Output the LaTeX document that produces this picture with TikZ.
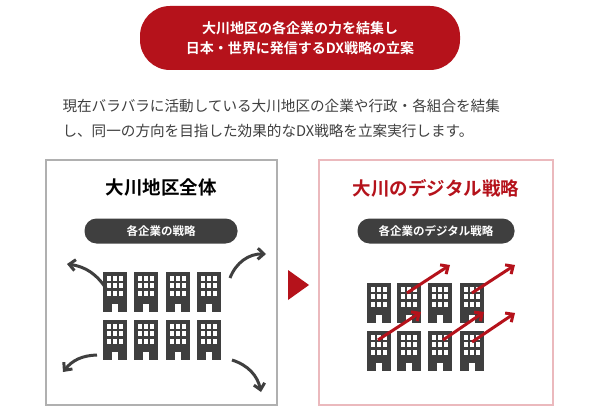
\documentclass[tikz,border=0pt]{standalone}
\usepackage{fontspec}
\setmainfont{Noto Sans CJK JP}
\newfontfamily\cjkb{Noto Sans CJK JP Bold}
\usetikzlibrary{arrows.meta}
\definecolor{dxred}{HTML}{B5121B}
\definecolor{dxdark}{HTML}{3F3F3F}
\definecolor{dxgray}{HTML}{B0B0B0}
\definecolor{dxpink}{HTML}{EBB9BD}
\tikzset{
  bld/.pic={
    \fill[dxdark] (0,0) rectangle (24,40);
    \foreach \r in {0,1,2}{\foreach \c in {0,1,2}{
      \fill[white] (3.5+\c*6.3,3.5+\r*7.5) rectangle ++(4.3,5);}}
    \fill[white] (9,32) rectangle (15,40);
  },
  pill/.style={fill=#1,rounded corners=12pt,text=white,font=\cjkb,align=center},
  panel/.style={draw=#1,line width=2.5pt},
  darr/.style={draw=dxdark,line width=3pt,-{Straight Barb[length=6pt,width=11pt,line width=3pt]}},
  rarr/.style={draw=dxred,line width=3pt,-{Straight Barb[length=6pt,width=11pt,line width=3pt]}},
}
\begin{document}
\begin{tikzpicture}[x=1pt,y=-1pt]
\useasboundingbox[fill=white] (0,0) rectangle (600,412);
\node[pill=dxred,minimum width=320pt,minimum height=64pt,rounded corners=30pt,font=\cjkb\fontsize{14}{20}\selectfont] (title) at (300,38) {大川地区の各企業の力を結集し\\日本・世界に発信するDX戦略の立案};
\node[anchor=west,align=left,text=dxdark,font=\fontsize{14.6}{25}\selectfont] (para) at (59,118) {現在バラバラに活動している大川地区の企業や行政・各組合を結集\\し、同一の方向を目指した効果的なDX戦略を立案実行します。};
\draw[panel=dxgray] (46,160) rectangle (277,405) coordinate (lp);
\draw[panel=dxpink] (319,160) rectangle (553,405) coordinate (rp);
\node[font=\cjkb\fontsize{18.5}{20}\selectfont,text=black] (lt) at (161,188) {大川地区全体};
\node[font=\cjkb\fontsize{18.5}{20}\selectfont,text=dxred] (rt) at (436,188) {大川のデジタル戦略};
\node[pill=dxdark,minimum width=153pt,minimum height=25pt,font=\cjkb\fontsize{11.5}{13}\selectfont] (lpill) at (161,231) {各企業の戦略};
\node[pill=dxdark,minimum width=157pt,minimum height=25pt,font=\cjkb\fontsize{11.5}{13}\selectfont] (rpill) at (436,231) {各企業のデジタル戦略};
\fill[dxred] (288,270) -- (309,285) -- (288,300) -- cycle;
\foreach \x in {103,134,166,197}{\pic at (\x,272) {bld}; \pic at (\x,320) {bld};}
\foreach \x in {367,397,428,460}{\pic at (\x,283) {bld}; \pic at (\x,331) {bld};}
\coordinate (a1) at (107,290); \coordinate (b1) at (67,264);
\coordinate (a2) at (230,278); \coordinate (b2) at (266,254);
\coordinate (a3) at (97,355); \coordinate (b3) at (63,372);
\coordinate (a4) at (232,360); \coordinate (b4) at (261,392);
\draw[darr] (a1) to[bend right=25] (b1);
\draw[darr] (a2) to[bend left=35] (b2);
\draw[darr] (a3) to[bend right=25] (b3);
\draw[darr] (a4) to[bend left=30] (b4);
\coordinate (c1) at (407,293); \coordinate (d1) at (450,265);
\coordinate (c2) at (472,293); \coordinate (d2) at (515,265);
\coordinate (c3) at (378,340); \coordinate (d3) at (421,312);
\coordinate (c4) at (443,340); \coordinate (d4) at (484,312);
\coordinate (c5) at (472,342); \coordinate (d5) at (515,313);
\foreach \i in {1,...,5}{\draw[rarr] (c\i) -- (d\i);}
\end{tikzpicture}
\end{document}
